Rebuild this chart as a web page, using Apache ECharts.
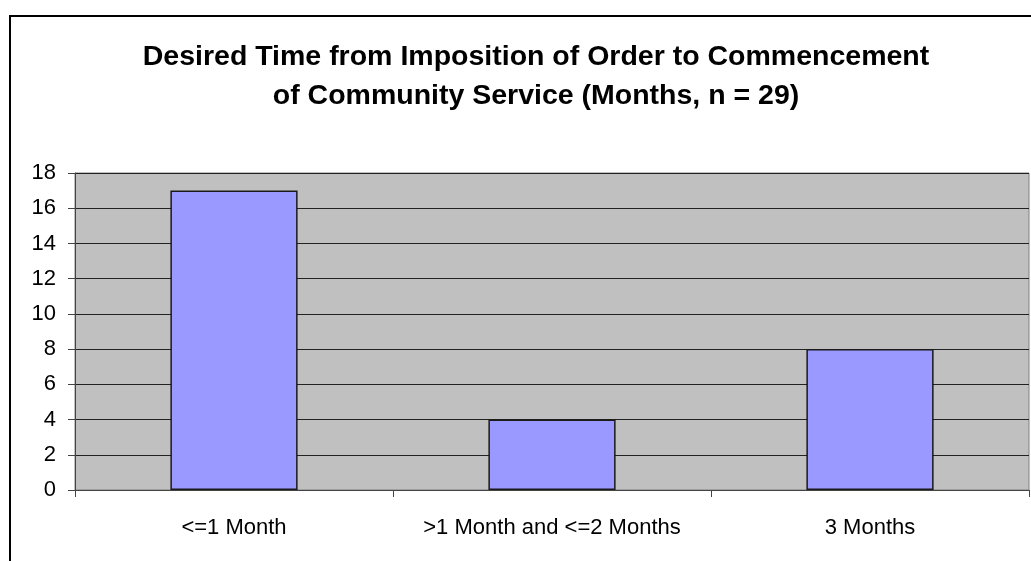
<!DOCTYPE html>
<html>
<head>
<meta charset="utf-8">
<script src="https://cdn.jsdelivr.net/npm/echarts@6/dist/echarts.min.js"></script>
<style>
  html, body { margin: 0; padding: 0; background: #fff; }
  #chart { width: 1031px; height: 561px; }
</style>
</head>
<body>
<div id="chart"></div>
<script>
var categories = ['<=1 Month', '>1 Month and <=2 Months', '3 Months'];
var counts = [17, 4, 8];
var yTicks = { min: 0, max: 18, interval: 2 };

var myChart = echarts.init(document.getElementById('chart'));

var option = {
    backgroundColor: '#fff',
    animation: false,
    title: {
        text: 'Desired Time from Imposition of Order to Commencement\nof Community Service (Months, n = 29)',
        left: 531,
        top: 33,
        textAlign: 'center',
        textStyle: {
            fontFamily: 'Liberation Sans, Arial, sans-serif',
            fontSize: 28.5,
            fontWeight: 'bold',
            color: '#000',
            lineHeight: 38.5
        }
    },
    // outer chart border
    graphic: [{
        type: 'rect',
        shape: { x: 10, y: 16, width: 1060, height: 600 },
        style: { fill: 'none', stroke: '#000', lineWidth: 2 },
        silent: true
    }],
    grid: {
        left: 75,
        right: 2,
        top: 173,
        bottom: 71,
        show: true,
        backgroundColor: '#C0C0C0',
        borderColor: '#808080',
        borderWidth: 1
    },
    xAxis: {
        type: 'category',
        data: categories,
        axisLine: { lineStyle: { color: '#444', width: 1 } },
        axisTick: { show: true, interval: 0, length: 7, lineStyle: { color: '#444' } },
        axisLabel: {
            interval: 0,
            margin: 27,
            fontFamily: 'Liberation Sans, Arial, sans-serif',
            fontSize: 22,
            color: '#000'
        }
    },
    yAxis: {
        type: 'value',
        min: yTicks.min,
        max: yTicks.max,
        interval: yTicks.interval,
        axisLine: { show: true, lineStyle: { color: '#444', width: 1 } },
        axisTick: { show: true, length: 7, lineStyle: { color: '#444' } },
        axisLabel: {
            margin: 19,
            fontFamily: 'Liberation Sans, Arial, sans-serif',
            fontSize: 22,
            color: '#000'
        },
        splitLine: { show: true, lineStyle: { color: '#222', width: 1 } }
    },
    series: [{
        type: 'bar',
        data: counts,
        barWidth: '40%',
        itemStyle: {
            color: '#9999FF',
            borderColor: '#1a1a1a',
            borderWidth: 1.5
        }
    }]
};

myChart.setOption(option);
</script>
</body>
</html>
